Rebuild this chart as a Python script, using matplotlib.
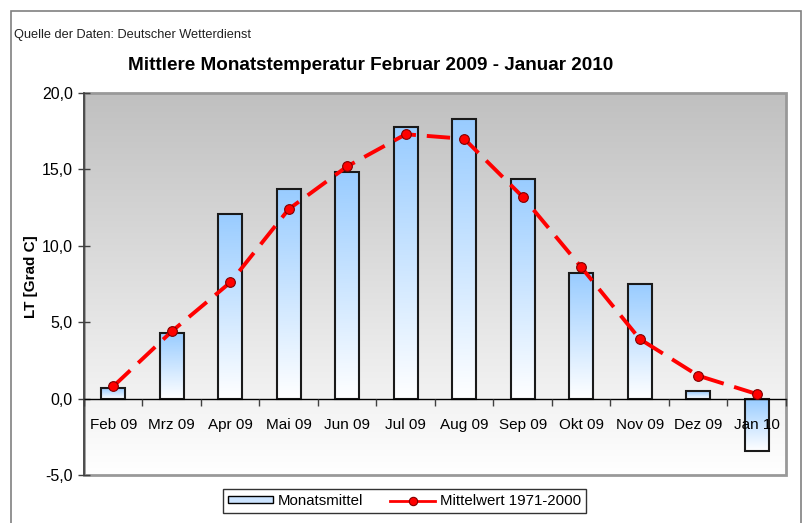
import matplotlib
matplotlib.use("Agg")
import matplotlib.pyplot as plt
import numpy as np
from matplotlib.patches import Rectangle
from matplotlib.lines import Line2D
from matplotlib.colors import LinearSegmentedColormap

plt.rcParams['font.family'] = ['Liberation Sans', 'DejaVu Sans']

months = ["Feb 09", "Mrz 09", "Apr 09", "Mai 09", "Jun 09", "Jul 09",
          "Aug 09", "Sep 09", "Okt 09", "Nov 09", "Dez 09", "Jan 10"]
monatsmittel = [0.7, 4.3, 12.1, 13.7, 14.8, 17.8, 18.3, 14.4, 8.2, 7.5, 0.5, -3.4]
mittelwert = [0.8, 4.4, 7.6, 12.4, 15.2, 17.3, 17.0, 13.2, 8.6, 3.9, 1.5, 0.3]
yticks = [-5, 0, 5, 10, 15, 20]
ytick_labels = ["-5,0", "0,0", "5,0", "10,0", "15,0", "20,0"]

W, H = 804, 523
fig = plt.figure(figsize=(W / 100, H / 100), dpi=100)
fig.patch.set_facecolor('white')

# outer frame
fig.patches.append(Rectangle((11 / W, -0.05), (801 - 11) / W, 1 - 11 / H + 0.05,
                             transform=fig.transFigure, fill=False,
                             edgecolor='#808080', lw=1.2, zorder=0))

ax = fig.add_axes([84 / W, 1 - 475 / H, (786 - 84) / W, (475 - 93) / H])
x = np.arange(len(months))

# background gradient
bg = LinearSegmentedColormap.from_list('bg', ['#c0c0c0', '#ffffff'])
grad = np.linspace(0, 1, 256).reshape(-1, 1)
ax.imshow(grad, cmap=bg, extent=[0, 1, 0, 1], transform=ax.transAxes,
          aspect='auto', origin='upper', zorder=0, interpolation='bilinear')

bars = ax.bar(x, monatsmittel, width=0.41, facecolor='none',
              edgecolor='#1a1a1a', lw=1.5, zorder=3)
barcm = LinearSegmentedColormap.from_list('bar', ['#99ccff', '#ffffff'])
for b in bars:
    x0, w = b.get_x(), b.get_width()
    y0, h = b.get_y(), b.get_height()
    ylo, yhi = min(y0, y0 + h), max(y0, y0 + h)
    ax.imshow(grad, cmap=barcm, extent=[x0, x0 + w, ylo, yhi],
              aspect='auto', origin='upper', zorder=2, interpolation='bilinear')

ax.plot(x, mittelwert, color='#ff0000', lw=2.8, linestyle=(0, (6, 2.8)),
        marker='o', markersize=7, markerfacecolor='#ff0000',
        markeredgecolor='#800000', markeredgewidth=0.8, zorder=4)

ax.set_xlim(-0.5, len(months) - 0.5)
ax.set_ylim(-5, 20)

# spines
for s in ['top', 'right']:
    ax.spines[s].set_visible(False)
ax.spines['left'].set_color('#404040')
ax.spines['left'].set_linewidth(1.2)
ax.spines['bottom'].set_position(('data', 0))
ax.spines['bottom'].set_color('black')
ax.spines['bottom'].set_linewidth(1.0)
ax.spines['bottom'].set_zorder(3.5)
ax.add_patch(Rectangle((0, 0), 1, 1, transform=ax.transAxes, fill=False,
                       edgecolor='#999999', lw=2.0, zorder=1, clip_on=False))

ax.set_yticks(yticks)
ax.set_yticklabels(ytick_labels, fontsize=11.5)
ax.tick_params(axis='y', direction='inout', length=8, width=1, color='#404040', pad=4)

ax.set_xticks(np.arange(-0.5, len(months) + 0.5, 1.0))
ax.set_xticklabels([])
ax.set_xticks(x, minor=True)
ax.set_xticklabels(months, minor=True, fontsize=11)
ax.tick_params(axis='x', which='major', direction='out', length=5, width=1, color='#404040')
ax.tick_params(axis='x', which='minor', length=0, pad=14)
ax.xaxis.set_zorder(5)

ax.set_ylabel("LT [Grad C]", fontsize=11, fontweight='bold')
ax.yaxis.set_label_coords(-0.066, 0.52)

fig.text(14 / W, 1 - 35 / H, "Quelle der Daten: Deutscher Wetterdienst",
         fontsize=9.2, ha='left', va='center', color='#202020')
fig.text(371 / W, 1 - 65 / H, "Mittlere Monatstemperatur Februar 2009 - Januar 2010",
         fontsize=13.6, fontweight='bold', ha='center', va='center')

handles = [
    Rectangle((0, 0), 1, 1, facecolor='#cce4ff', edgecolor='black', lw=1),
    Line2D([0], [0], color='#ff0000', lw=2, marker='o', markersize=6,
           markerfacecolor='#ff0000', markeredgecolor='#800000', markeredgewidth=0.8),
]
leg = fig.legend(handles, ["Monatsmittel", "Mittelwert 1971-2000"],
                 loc='center', bbox_to_anchor=(404.5 / W, 1 - 501 / H), ncol=2,
                 fontsize=10.8, frameon=True, fancybox=False, edgecolor='black',
                 handlelength=3.0, handleheight=0.35, handletextpad=0.3,
                 columnspacing=1.8, borderpad=0.35, borderaxespad=0)
leg.get_frame().set_linewidth(1.0)

fig.savefig("out.png", dpi=100)
